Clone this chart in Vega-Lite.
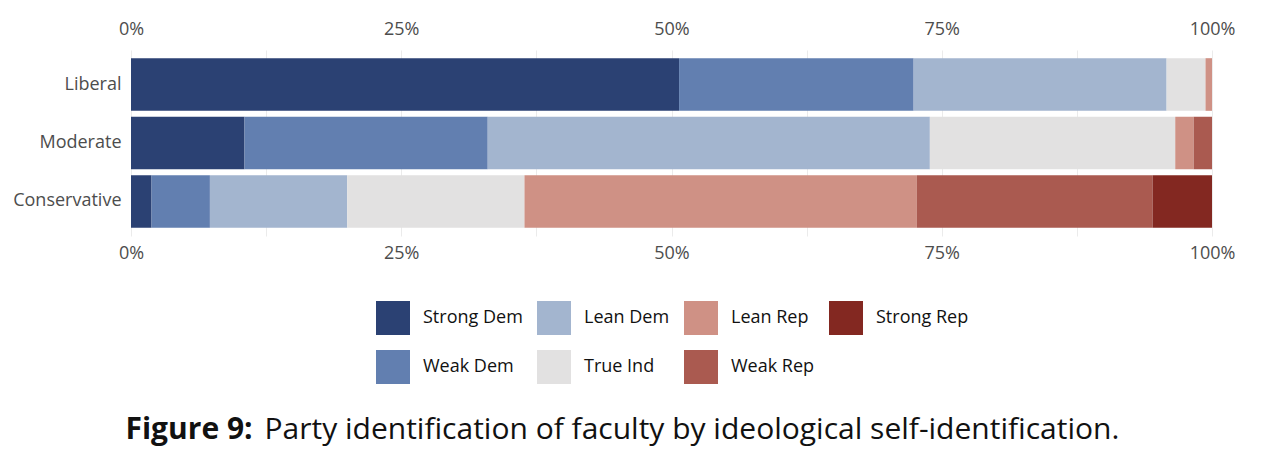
{
  "$schema": "https://vega.github.io/schema/vega-lite/v6.json",
  "width": 1081,
  "height": 186,
  "autosize": {"type": "none"},
  "padding": {"left": 131, "top": 50, "right": 74, "bottom": 235},
  "background": "white",
  "config": {
    "view": {"stroke": null},
    "font": "Open Sans",
    "axis": {"labelFont": "Open Sans", "titleFont": "Open Sans"},
    "legend": {"labelFont": "Open Sans"}
  },
  "data": {
    "values": [
      {"ideology": "Liberal", "party": "Strong Dem", "ord": 1, "pct": 50.7},
      {"ideology": "Liberal", "party": "Weak Dem", "ord": 2, "pct": 21.7},
      {"ideology": "Liberal", "party": "Lean Dem", "ord": 3, "pct": 23.4},
      {"ideology": "Liberal", "party": "True Ind", "ord": 4, "pct": 3.6},
      {"ideology": "Liberal", "party": "Lean Rep", "ord": 5, "pct": 0.6},
      {"ideology": "Liberal", "party": "Weak Rep", "ord": 6, "pct": 0},
      {"ideology": "Liberal", "party": "Strong Rep", "ord": 7, "pct": 0},
      {"ideology": "Moderate", "party": "Strong Dem", "ord": 1, "pct": 10.5},
      {"ideology": "Moderate", "party": "Weak Dem", "ord": 2, "pct": 22.5},
      {"ideology": "Moderate", "party": "Lean Dem", "ord": 3, "pct": 40.9},
      {"ideology": "Moderate", "party": "True Ind", "ord": 4, "pct": 22.7},
      {"ideology": "Moderate", "party": "Lean Rep", "ord": 5, "pct": 1.7},
      {"ideology": "Moderate", "party": "Weak Rep", "ord": 6, "pct": 1.7},
      {"ideology": "Moderate", "party": "Strong Rep", "ord": 7, "pct": 0},
      {"ideology": "Conservative", "party": "Strong Dem", "ord": 1, "pct": 1.9},
      {"ideology": "Conservative", "party": "Weak Dem", "ord": 2, "pct": 5.4},
      {"ideology": "Conservative", "party": "Lean Dem", "ord": 3, "pct": 12.7},
      {"ideology": "Conservative", "party": "True Ind", "ord": 4, "pct": 16.4},
      {"ideology": "Conservative", "party": "Lean Rep", "ord": 5, "pct": 36.3},
      {"ideology": "Conservative", "party": "Weak Rep", "ord": 6, "pct": 21.8},
      {"ideology": "Conservative", "party": "Strong Rep", "ord": 7, "pct": 5.5}
    ]
  },
  "layer": [
    {
      "mark": {"type": "bar"},
      "encoding": {
        "y": {
          "field": "ideology",
          "type": "nominal",
          "sort": ["Liberal", "Moderate", "Conservative"],
          "scale": {"paddingInner": 0.1, "paddingOuter": 0.14},
          "axis": {
            "title": null,
            "ticks": false,
            "tickSize": 0,
            "domain": false,
            "labelPadding": 10,
            "labelFontSize": 18,
            "labelColor": "#4d4d4d"
          }
        },
        "x": {
          "field": "pct",
          "type": "quantitative",
          "stack": "zero",
          "scale": {"domain": [0, 100], "nice": false},
          "axis": {
            "orient": "bottom",
            "values": [0, 12.5, 25, 37.5, 50, 62.5, 75, 87.5, 100],
            "labelExpr": "datum.value % 25 == 0 ? datum.value + '%' : ''",
            "grid": true,
            "gridColor": "#ebebeb",
            "gridWidth": 1,
            "ticks": false,
            "tickSize": 0,
            "domain": false,
            "labelPadding": 8,
            "labelFontSize": 18,
            "labelColor": "#4d4d4d",
            "labelFlush": false,
            "labelOverlap": false,
            "title": "Figure 9:",
            "titleFontSize": 30,
            "titleFontWeight": "bold",
            "titleColor": "#111111",
            "titleX": -6,
            "titleY": 202,
            "titleAlign": "left",
            "titleAnchor": null,
            "titleBaseline": "alphabetic"
          }
        },
        "color": {
          "field": "party",
          "type": "nominal",
          "scale": {
            "domain": ["Strong Dem", "Lean Dem", "Lean Rep", "Strong Rep", "Weak Dem", "True Ind", "Weak Rep"],
            "range": ["#2b4173", "#a3b5cf", "#cf9185", "#832821", "#627fb0", "#e2e1e1", "#aa5a50"]
          },
          "legend": {
            "title": null,
            "orient": "none",
            "legendX": 245,
            "legendY": 251,
            "columns": 4,
            "direction": "horizontal",
            "symbolType": "square",
            "symbolSize": 1156,
            "symbolStrokeWidth": 0,
            "symbolOpacity": 1,
            "labelFontSize": 18,
            "labelColor": "#111111",
            "labelOffset": 13,
            "columnPadding": 14,
            "rowPadding": 15,
            "padding": 0
          }
        },
        "order": {"field": "ord", "type": "quantitative"}
      }
    },
    {
      "mark": {"type": "bar", "opacity": 0},
      "encoding": {
        "y": {
          "field": "ideology",
          "type": "nominal",
          "sort": ["Liberal", "Moderate", "Conservative"]
        },
        "x": {
          "field": "pct",
          "type": "quantitative",
          "stack": "zero",
          "axis": {
            "orient": "top",
            "values": [0, 25, 50, 75, 100],
            "labelExpr": "datum.value + '%'",
            "grid": false,
            "ticks": false,
            "tickSize": 0,
            "domain": false,
            "labelPadding": 12,
            "labelFontSize": 18,
            "labelColor": "#4d4d4d",
            "labelFlush": false,
            "labelOverlap": false,
            "title": "Party identification of faculty by ideological self-identification.",
            "titleFontSize": 30,
            "titleFontWeight": "normal",
            "titleColor": "#111111",
            "titleX": 133,
            "titleY": 388,
            "titleAlign": "left",
            "titleAnchor": null,
            "titleBaseline": "alphabetic"
          }
        }
      }
    }
  ],
  "resolve": {"axis": {"x": "independent"}}
}
